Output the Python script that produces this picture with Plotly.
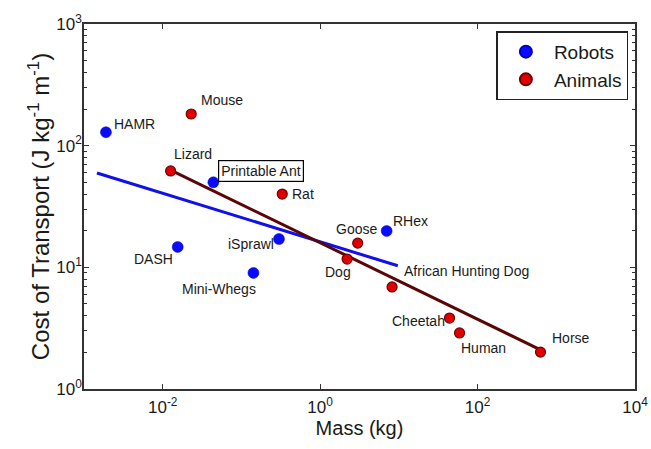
import numpy as np
import plotly.graph_objects as go

# ---- data ----
robot_names = ["HAMR", "Printable Ant", "DASH", "iSprawl", "Mini-Whegs", "RHex"]
robot_mass = [0.0019, 0.044, 0.0155, 0.30, 0.142, 7.0]
robot_cot = [129, 50, 14.7, 17.1, 9.0, 19.9]

animal_names = ["Mouse", "Lizard", "Rat", "Goose", "Dog", "African Hunting Dog",
                "Cheetah", "Human", "Horse"]
animal_mass = [0.023, 0.0126, 0.33, 3.0, 2.2, 8.2, 44, 59, 630]
animal_cot = [182, 62, 40, 15.8, 11.7, 6.9, 3.83, 2.89, 2.01]

robot_fit_mass = [0.00146, 9.7]
robot_fit_cot = [59.6, 10.3]
animal_fit_mass = [0.0126, 630]
animal_fit_cot = [63, 2.1]

x_tick_vals = [1e-2, 1, 1e2, 1e4]
x_tick_text = ["10<sup>-2</sup>", "10<sup>0</sup>", "10<sup>2</sup>", "10<sup>4</sup>"]
y_tick_vals = [1, 10, 100, 1000]
y_tick_text = ["10<sup>0</sup>", "10<sup>1</sup>", "10<sup>2</sup>", "10<sup>3</sup>"]
y_minor_vals = [m * d for d in [1, 10, 100] for m in range(2, 10)]

# label placement (style): xanchor, xshift, yshift
robot_label_style = {
    "HAMR": ("left", 6, 8),
    "Printable Ant": ("left", 5, 11),
    "DASH": ("right", -3, -12),
    "iSprawl": ("right", -3, -5),
    "Mini-Whegs": ("right", 5, -16),
    "RHex": ("left", 4, 10),
}
animal_label_style = {
    "Mouse": ("left", 8, 14),
    "Lizard": ("left", 1, 17),
    "Rat": ("left", 8, 0),
    "Goose": ("center", -1, 14),
    "Dog": ("right", 6, -13),
    "African Hunting Dog": ("left", 10, 16),
    "Cheetah": ("right", -3, -3),
    "Human": ("left", -1, -15),
    "Horse": ("left", 10, 14),
}

FONT = "Liberation Sans, Arial, sans-serif"

fig = go.Figure()
fig.add_trace(go.Scatter(x=robot_fit_mass, y=robot_fit_cot, mode="lines",
                         line=dict(color="#1010e8", width=3), showlegend=False,
                         hoverinfo="skip"))
fig.add_trace(go.Scatter(x=animal_fit_mass, y=animal_fit_cot, mode="lines",
                         line=dict(color="#5a0606", width=3), showlegend=False,
                         hoverinfo="skip"))
fig.add_trace(go.Scatter(x=robot_mass, y=robot_cot, mode="markers", name="Robots",
                         marker=dict(color="#0a0aff", size=11,
                                     line=dict(color="#0000c0", width=0.5))))
fig.add_trace(go.Scatter(x=animal_mass, y=animal_cot, mode="markers", name="Animals",
                         marker=dict(color="#e00000", size=10,
                                     line=dict(color="#700000", width=1.2))))

annotations = []
for names, xs, ys, style in [(robot_names, robot_mass, robot_cot, robot_label_style),
                             (animal_names, animal_mass, animal_cot, animal_label_style)]:
    for n, xv, yv in zip(names, xs, ys):
        xa, dx, dy = style[n]
        a = dict(x=np.log10(xv), y=np.log10(yv), text=n, showarrow=False,
                 xanchor=xa, yanchor="middle", xshift=dx, yshift=dy,
                 font=dict(family=FONT, size=14, color="#1a1a1a"))
        if n == "Printable Ant":
            a.update(bordercolor="black", borderwidth=1.2, borderpad=2,
                     bgcolor="white")
        annotations.append(a)

axis_common = dict(type="log", showline=True, linecolor="#333", linewidth=1.5,
                   mirror="allticks", ticks="inside", ticklen=5, tickcolor="#333",
                   showgrid=False, zeroline=False, automargin=False,
                   tickfont=dict(family=FONT, size=17, color="#1a1a1a"))

fig.update_layout(
    width=651, height=449,
    margin=dict(l=84, r=16, t=24, b=60),
    paper_bgcolor="white", plot_bgcolor="white",
    annotations=annotations,
    legend=dict(x=0.988, y=0.98, xanchor="right", yanchor="top",
                bordercolor="#222", borderwidth=1.5, bgcolor="white",
                font=dict(family=FONT, size=19, color="#1a1a1a"),
                itemwidth=46, itemsizing="constant"),
    xaxis=dict(axis_common, range=[-3, 4], tickvals=x_tick_vals, ticktext=x_tick_text,
               ticklabelstandoff=2,
               title=dict(text="Mass (kg)", standoff=2,
                          font=dict(family=FONT, size=20, color="#1a1a1a"))),
    yaxis=dict(axis_common, range=[0, 3], tickvals=y_tick_vals, ticktext=y_tick_text,
               ticklabelstandoff=-3,
               minor=dict(tickvals=y_minor_vals, ticks="inside", ticklen=3,
                          tickcolor="#333"),
               title=dict(text="Cost of Transport (J kg<sup>-1</sup> m<sup>-1</sup>)",
                          standoff=0,
                          font=dict(family=FONT, size=24, color="#1a1a1a"))),
)

fig.write_html("out.html", config={"displayModeBar": False},
               post_script="document.documentElement.style.margin='0';"
                           "document.body.style.margin='0';"
                           "document.body.style.overflow='hidden';")
